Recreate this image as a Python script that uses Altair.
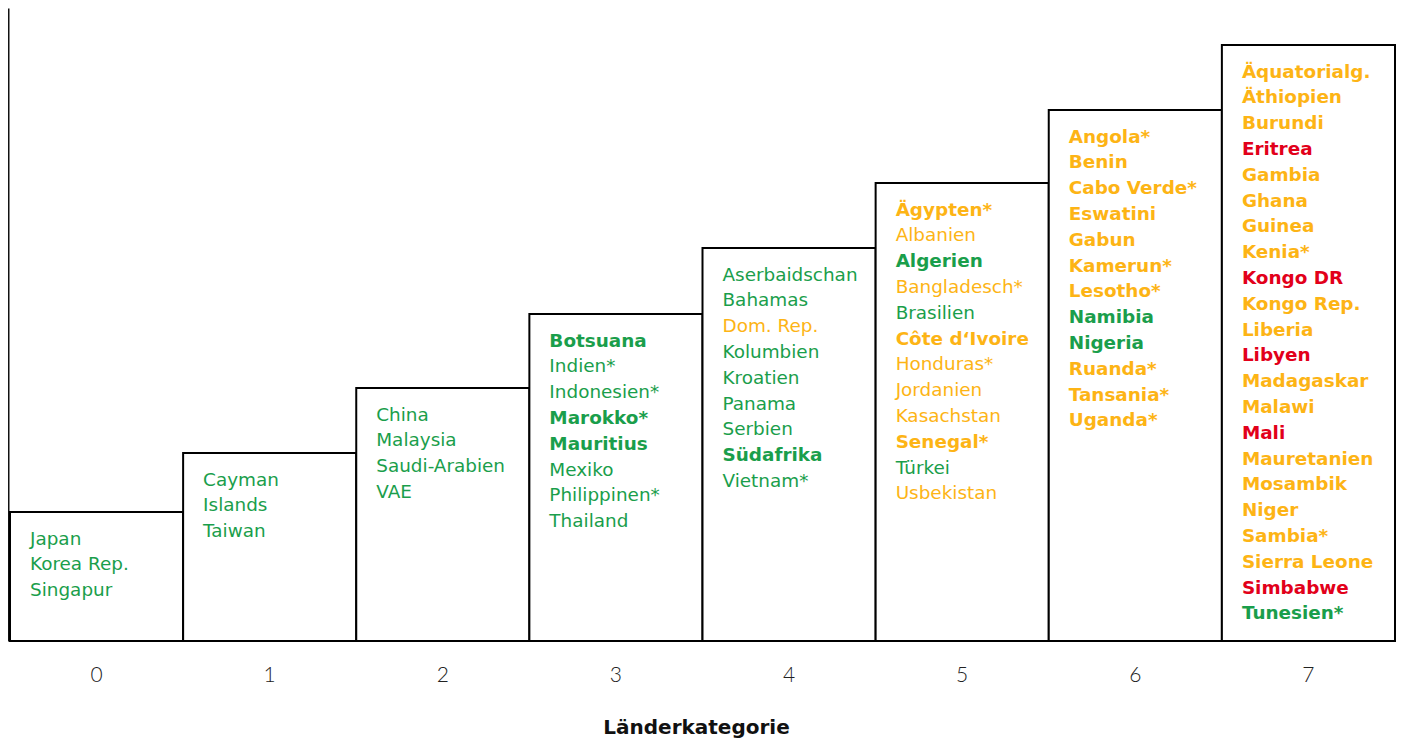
import altair as alt
import pandas as pd

# ---------------- data ----------------
categories = ["0", "1", "2", "3", "4", "5", "6", "7"]
bar_heights = [1.29, 1.88, 2.53, 3.27, 3.93, 4.58, 5.31, 5.96]

cat0_names = ["Japan", "Korea Rep.", "Singapur"]
cat0_status = ["g", "g", "g"]
cat0_bold = [0, 0, 0]

cat1_names = ["Cayman", "Islands", "Taiwan"]
cat1_status = ["g", "g", "g"]
cat1_bold = [0, 0, 0]

cat2_names = ["China", "Malaysia", "Saudi-Arabien", "VAE"]
cat2_status = ["g", "g", "g", "g"]
cat2_bold = [0, 0, 0, 0]

cat3_names = ["Botsuana", "Indien*", "Indonesien*", "Marokko*", "Mauritius",
              "Mexiko", "Philippinen*", "Thailand"]
cat3_status = ["g", "g", "g", "g", "g", "g", "g", "g"]
cat3_bold = [1, 0, 0, 1, 1, 0, 0, 0]

cat4_names = ["Aserbaidschan", "Bahamas", "Dom. Rep.", "Kolumbien", "Kroatien",
              "Panama", "Serbien", "Südafrika", "Vietnam*"]
cat4_status = ["g", "g", "o", "g", "g", "g", "g", "g", "g"]
cat4_bold = [0, 0, 0, 0, 0, 0, 0, 1, 0]

cat5_names = ["Ägypten*", "Albanien", "Algerien", "Bangladesch*", "Brasilien",
              "Côte d‘Ivoire", "Honduras*", "Jordanien", "Kasachstan",
              "Senegal*", "Türkei", "Usbekistan"]
cat5_status = ["o", "o", "g", "o", "g", "o", "o", "o", "o", "o", "g", "o"]
cat5_bold = [1, 0, 1, 0, 0, 1, 0, 0, 0, 1, 0, 0]

cat6_names = ["Angola*", "Benin", "Cabo Verde*", "Eswatini", "Gabun", "Kamerun*",
              "Lesotho*", "Namibia", "Nigeria", "Ruanda*", "Tansania*", "Uganda*"]
cat6_status = ["o", "o", "o", "o", "o", "o", "o", "g", "g", "o", "o", "o"]
cat6_bold = [1] * 12

cat7_names = ["Äquatorialg.", "Äthiopien", "Burundi", "Eritrea", "Gambia", "Ghana",
              "Guinea", "Kenia*", "Kongo DR", "Kongo Rep.", "Liberia", "Libyen",
              "Madagaskar", "Malawi", "Mali", "Mauretanien", "Mosambik", "Niger",
              "Sambia*", "Sierra Leone", "Simbabwe", "Tunesien*"]
cat7_status = ["o", "o", "o", "r", "o", "o", "o", "o", "r", "o", "o", "r",
               "o", "o", "r", "o", "o", "o", "o", "o", "r", "g"]
cat7_bold = [1] * 22

status_domain = ["g", "o", "r"]
status_colors = ["#1a9e4b", "#fdb415", "#e2001a"]

# ---------------- tables ----------------
bars_df = pd.DataFrame({"cat": categories, "h": bar_heights})

all_names = [cat0_names, cat1_names, cat2_names, cat3_names,
             cat4_names, cat5_names, cat6_names, cat7_names]
all_status = [cat0_status, cat1_status, cat2_status, cat3_status,
              cat4_status, cat5_status, cat6_status, cat7_status]
all_bold = [cat0_bold, cat1_bold, cat2_bold, cat3_bold,
            cat4_bold, cat5_bold, cat6_bold, cat7_bold]

rows = []
for c, names, stats, bolds in zip(categories, all_names, all_status, all_bold):
    for i, (n, s, b) in enumerate(zip(names, stats, bolds)):
        rows.append({"cat": c, "name": n, "status": s, "bold": b, "idx": i})
text_df = pd.DataFrame(rows).merge(bars_df, on="cat")

# ---------------- chart ----------------
x_scale = alt.Scale(paddingInner=0, paddingOuter=0.01155, round=False)
y_scale = alt.Scale(domain=[0, 6.33], nice=False, zero=True)
x_axis = alt.Axis(title="Länderkategorie", labelAngle=0, ticks=False, domain=False,
                  labelFont="Lato", labelFontWeight=300, labelFontSize=21,
                  labelColor="#222", labelPadding=23,
                  titleFont="DejaVu Sans", titleFontWeight="bold", titleFontSize=20,
                  titleColor="#111", titleBaseline="alphabetic", titleY=92.5,
                  titleX=688)
y_axis = alt.Axis(title=None, labels=False, ticks=False, grid=False, domain=True,
                  domainColor="#111", domainWidth=2)

bars = alt.Chart(bars_df).mark_bar(fill="white", stroke="black", strokeWidth=2).encode(
    x=alt.X("cat:N", scale=x_scale, axis=x_axis, sort=categories),
    y=alt.Y("h:Q", scale=y_scale, axis=y_axis),
)

color_enc = alt.Color("status:N", scale=alt.Scale(domain=status_domain, range=status_colors),
                      legend=None)

def text_layer(bold):
    return alt.Chart(text_df).transform_filter(
        f"datum.bold == {bold}"
    ).transform_calculate(
        ty="datum.h - (0.265 + datum.idx * 0.258)"
    ).mark_text(
        align="left", baseline="middle", dx=20, font="DejaVu Sans", fontSize=18.4,
        fontWeight="bold" if bold else "normal"
    ).encode(
        x=alt.X("cat:N", scale=x_scale, axis=x_axis, sort=categories, bandPosition=0),
        y=alt.Y("ty:Q", scale=y_scale, axis=y_axis),
        color=color_enc,
        text="name:N",
    )

chart = alt.layer(bars, text_layer(0), text_layer(1)).properties(
    width=1389, height=633,
    autosize=alt.AutoSizeParams(type="none"),
    padding={"left": 0, "top": 0, "right": 0, "bottom": 97},
).configure_view(stroke=None)

chart.save("out.html", embed_options={"renderer": "svg", "actions": False})
